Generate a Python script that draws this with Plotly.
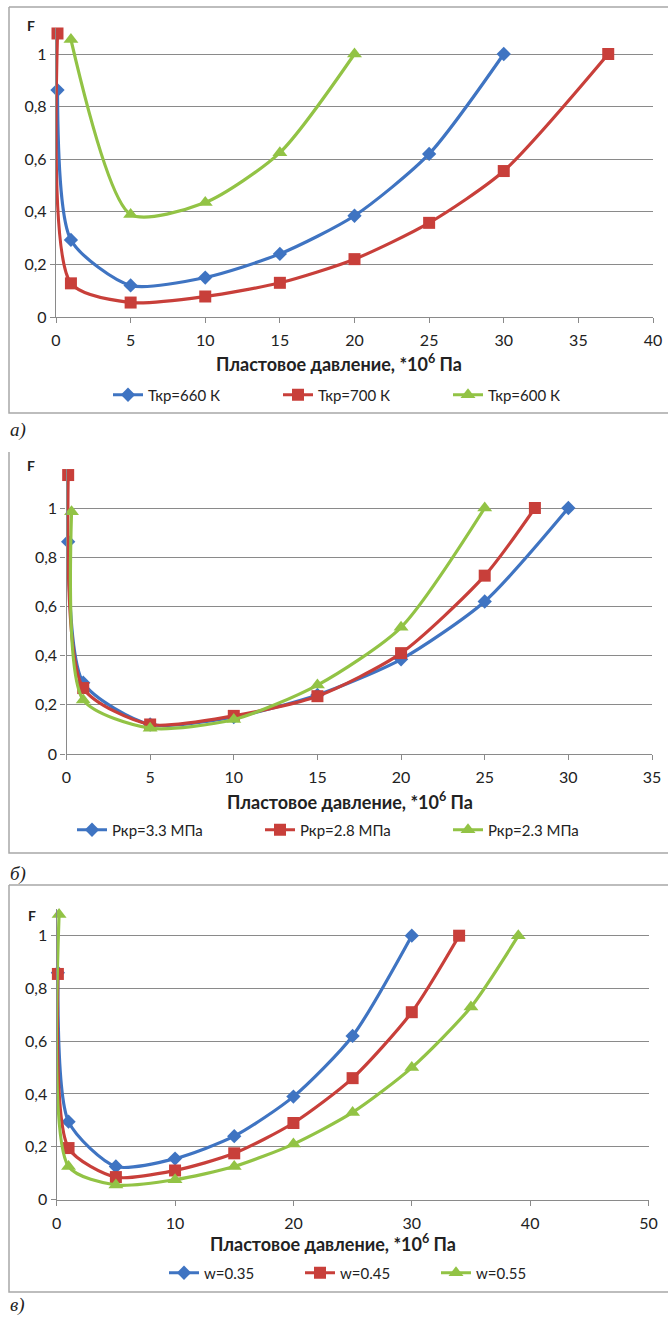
import plotly.graph_objects as go

# ---------------- data ----------------
# panel a) critical temperature
a_x_660 = [0.1, 1, 5, 10, 15, 20, 25, 30]
a_y_660 = [0.863, 0.293, 0.12, 0.15, 0.24, 0.385, 0.62, 1.0]
a_x_700 = [0.1, 1, 5, 10, 15, 20, 25, 30, 37]
a_y_700 = [1.078, 0.128, 0.055, 0.078, 0.13, 0.22, 0.358, 0.555, 1.0]
a_x_600 = [1, 5, 10, 15, 20]
a_y_600 = [1.055, 0.39, 0.435, 0.625, 1.0]
a_names = ["Ткр=660 К", "Ткр=700 К", "Ткр=600 К"]

# panel б) critical pressure
b_x_33 = [0.1, 1, 5, 10, 15, 20, 25, 30]
b_y_33 = [0.863, 0.29, 0.12, 0.15, 0.24, 0.385, 0.62, 1.0]
b_x_28 = [0.1, 1, 5, 10, 15, 20, 25, 28]
b_y_28 = [1.134, 0.268, 0.12, 0.155, 0.235, 0.41, 0.725, 1.0]
b_x_23 = [0.3, 1, 5, 10, 15, 20, 25]
b_y_23 = [0.985, 0.22, 0.105, 0.14, 0.28, 0.515, 1.0]
b_names = ["Ркр=3.3 МПа", "Ркр=2.8 МПа", "Ркр=2.3 МПа"]

# panel в) acentric factor
c_x_035 = [0.1, 1, 5, 10, 15, 20, 25, 30]
c_y_035 = [0.86, 0.295, 0.125, 0.155, 0.24, 0.39, 0.62, 1.0]
c_x_045 = [0.1, 1, 5, 10, 15, 20, 25, 30, 34]
c_y_045 = [0.855, 0.195, 0.085, 0.11, 0.175, 0.29, 0.46, 0.71, 1.0]
c_x_055 = [0.2, 1, 5, 10, 15, 20, 25, 30, 35, 39]
c_y_055 = [1.08, 0.125, 0.055, 0.075, 0.125, 0.21, 0.33, 0.5, 0.73, 1.0]
c_names = ["w=0.35", "w=0.45", "w=0.55"]

y_tickvals = [0, 0.2, 0.4, 0.6, 0.8, 1.0]
y_ticktext = ["0", "0,2", "0,4", "0,6", "0,8", "1"]
x_title = "Пластовое давление, *10<sup>6</sup> Па"
panel_labels = ["а)", "б)", "в)"]

# ---------------- styling ----------------
W, H = 668, 1322
BLUE, RED, GREEN = "#3F74C2", "#C83F3A", "#92C345"
GRID = "#8A8A8A"
FONT = "Lato"
SMOOTH = 0.7
markers = [dict(symbol="diamond", size=11, color=BLUE),
           dict(symbol="square", size=12, color=RED),
           dict(symbol="triangle-up", size=13, color=GREEN)]
colors = [BLUE, RED, GREEN]


def px2x(p):
    return p / W


def px2y(p):
    return 1 - p / H


fig = go.Figure()

panels = [
    dict(xs=[a_x_660, a_x_700, a_x_600], ys=[a_y_660, a_y_700, a_y_600], names=a_names,
         xr=[0, 40], dx=5, yr=[0, 1.1], x0=56, x1=653, y0=317, y1=54, legend="legend"),
    dict(xs=[b_x_33, b_x_28, b_x_23], ys=[b_y_33, b_y_28, b_y_23], names=b_names,
         xr=[0, 35], dx=5, yr=[0, 1.16], x0=66.5, x1=652, y0=754, y1=508, legend="legend2"),
    dict(xs=[c_x_035, c_x_045, c_x_055], ys=[c_y_035, c_y_045, c_y_055], names=c_names,
         xr=[0, 50], dx=10, yr=[0, 1.1], x0=56.7, x1=648.5, y0=1199.5, y1=935.7, legend="legend3"),
]

layout_axes = {}
for i, p in enumerate(panels):
    k = "" if i == 0 else str(i + 1)
    xa, ya = "x" + k, "y" + k
    for j in range(3):
        fig.add_trace(go.Scatter(
            x=p["xs"][j], y=p["ys"][j], name=p["names"][j], mode="lines+markers",
            line=dict(color=colors[j], width=3.2, shape="spline", smoothing=SMOOTH),
            marker=markers[j], cliponaxis=False,
            xaxis=xa, yaxis=ya, legend=p["legend"]))
    unit = p["y0"] - p["y1"]
    top_px = p["y0"] - unit * p["yr"][1]
    layout_axes["xaxis" + k] = dict(
        domain=[px2x(p["x0"]), px2x(p["x1"])], range=p["xr"], dtick=p["dx"], tick0=0,
        anchor=ya, showgrid=False, zeroline=False, showline=True, linecolor=GRID, linewidth=1.4,
        ticks="outside", ticklen=5, tickcolor=GRID, tickwidth=1.4, automargin=False,
        tickfont=dict(family=FONT, size=16, color="#222"), ticklabelstandoff=4)
    layout_axes["yaxis" + k] = dict(
        domain=[px2y(p["y0"]), px2y(top_px)], range=p["yr"], anchor=xa,
        tickvals=y_tickvals, ticktext=y_ticktext, automargin=False,
        showgrid=True, gridcolor=GRID, gridwidth=1.4, zeroline=False,
        showline=True, linecolor=GRID, linewidth=1.4,
        ticks="outside", ticklen=5, tickcolor=GRID, tickwidth=1.4,
        tickfont=dict(family=FONT, size=16, color="#222"))

fig.update_layout(**layout_axes)

legend_common = dict(orientation="h", xanchor="center", yanchor="middle",
                     font=dict(family=FONT, size=15, color="#222"),
                     bgcolor="rgba(0,0,0,0)", entrywidthmode="pixels", itemwidth=30)
fig.update_layout(
    width=W, height=H, margin=dict(l=0, r=0, t=0, b=0, autoexpand=False),
    paper_bgcolor="white", plot_bgcolor="white", showlegend=True,
    legend=dict(x=px2x(363), y=px2y(395), entrywidth=125, **legend_common),
    legend2=dict(x=px2x(354), y=px2y(830), entrywidth=143, **legend_common),
    legend3=dict(x=px2x(368), y=px2y(1273), entrywidth=91, **legend_common),
)

# frames
FRAME = "#A8A8A8"
shapes = [
    dict(type="path", path=f"M {px2x(9)},{px2y(7)} L {px2x(9)},{px2y(413)} L {px2x(675)},{px2y(413)} M {px2x(9)},{px2y(7)} L {px2x(675)},{px2y(7)}"),
    dict(type="path", path=f"M {px2x(9)},{px2y(452)} L {px2x(9)},{px2y(853)} L {px2x(675)},{px2y(853)}"),
    dict(type="path", path=f"M {px2x(9)},{px2y(885)} L {px2x(9)},{px2y(1292)} L {px2x(675)},{px2y(1292)} M {px2x(9)},{px2y(885)} L {px2x(675)},{px2y(885)}"),
]
for s in shapes:
    fig.add_shape(xref="paper", yref="paper", line=dict(color=FRAME, width=1.5), layer="below", **s)

annos = []
# axis titles
for cx, cy in [(339, 363), (349.5, 801), (333, 1243)]:
    annos.append(dict(x=px2x(cx), y=px2y(cy), text="<b>" + x_title + "</b>",
                      font=dict(family=FONT, size=18, color="#222")))
# F labels
for cx, cy in [(31, 26), (31, 465), (32, 915)]:
    annos.append(dict(x=px2x(cx), y=px2y(cy), text="<b>F</b>",
                      font=dict(family=FONT, size=14, color="#222")))
# panel labels
for lab, cy in zip(panel_labels, [430, 874, 1305]):
    annos.append(dict(x=px2x(8), y=px2y(cy), xanchor="left", text="<i>" + lab + "</i>",
                      font=dict(family="Liberation Serif", size=19, color="#222")))
for a in annos:
    a.setdefault("xanchor", "center")
    fig.add_annotation(xref="paper", yref="paper", yanchor="middle", showarrow=False, **a)

fig.write_html("out.html", config={"displayModeBar": False},
               post_script="document.body.style.margin='0';document.body.style.overflow='hidden';")
